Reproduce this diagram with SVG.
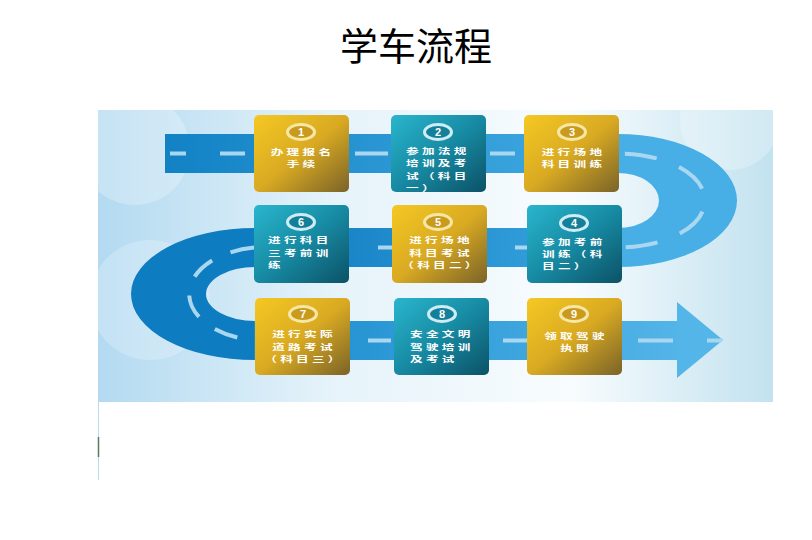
<svg xmlns="http://www.w3.org/2000/svg" width="812" height="540" viewBox="0 0 812 540">
<defs>
<style>
.t{font-family:"Noto Sans CJK SC","Noto Sans",sans-serif;font-size:8.4px;font-weight:bold;fill:#ffffff;letter-spacing:2.2px}
.c{text-anchor:middle}
.n{font-family:"Liberation Sans",Arial,sans-serif;font-size:11px;font-weight:bold;fill:#ffffff;text-anchor:middle}
.dash{fill:none;stroke:#a9d7f0;stroke-width:4}
.rg{fill:#c99a1c;stroke:#f6e7a6;stroke-width:3}
.rt{fill:#137f98;stroke:#cdecf4;stroke-width:3}
</style>
<linearGradient id="bg" x1="0" y1="0" x2="1" y2="0">
<stop offset="0" stop-color="#b3daf1"/>
<stop offset="0.35" stop-color="#e6f3fa"/>
<stop offset="0.7" stop-color="#f8fcfe"/>
<stop offset="1" stop-color="#c2e2ef"/>
</linearGradient>
<linearGradient id="gold" x1="0" y1="0" x2="1" y2="1">
<stop offset="0" stop-color="#f5c823"/>
<stop offset="0.5" stop-color="#d9aa22"/>
<stop offset="1" stop-color="#7a6328"/>
</linearGradient>
<linearGradient id="teal" x1="0" y1="0" x2="1" y2="1">
<stop offset="0" stop-color="#29b6cd"/>
<stop offset="0.5" stop-color="#178aa3"/>
<stop offset="1" stop-color="#0b5266"/>
</linearGradient>
<linearGradient id="topband" x1="0" y1="0" x2="1" y2="0">
<stop offset="0" stop-color="#1282c5"/>
<stop offset="1" stop-color="#43abe3"/>
</linearGradient>
<linearGradient id="midband" x1="0" y1="0" x2="1" y2="0">
<stop offset="0" stop-color="#0f7bc0"/>
<stop offset="1" stop-color="#3aa6e1"/>
</linearGradient>
<linearGradient id="botband" x1="0" y1="0" x2="1" y2="0">
<stop offset="0" stop-color="#1a8bcd"/>
<stop offset="1" stop-color="#53b4e8"/>
</linearGradient>
</defs>

<text x="416" y="60" style="font-family:'Noto Sans CJK SC','Noto Sans',sans-serif;font-size:38px;fill:#000000" text-anchor="middle">学车流程</text>

<g id="background">
<rect x="98" y="110" width="675" height="292" fill="url(#bg)"/>
<circle cx="135" cy="150" r="55" fill="#ffffff" opacity="0.25"/>
<circle cx="150" cy="300" r="60" fill="#ffffff" opacity="0.22"/>
<circle cx="730" cy="120" r="50" fill="#ffffff" opacity="0.25"/>
<line x1="98.5" y1="402" x2="98.5" y2="480" stroke="#b8dcea" stroke-width="1"/>
<line x1="98.5" y1="437" x2="98.5" y2="457" stroke="#5a7a60" stroke-width="1.5"/>
</g>

<g id="connectors">
<rect x="165" y="134" width="454" height="39" fill="url(#topband)"/>
<path d="M618,134 A119,66.5 0 0 1 618,267 L618,228 A41,27.5 0 0 0 618,173 Z" fill="#47afe5"/>
<rect x="255" y="228" width="364" height="39" fill="url(#midband)"/>
<path d="M255,228 A124,66 0 0 0 255,360 L255,321 A49,27 0 0 1 255,267 Z" fill="#0e7cc0"/>
<rect x="254" y="321" width="424" height="39" fill="url(#botband)"/>
<polygon points="677,302 723,340 677,378" fill="#54b5e8"/>
<line class="dash" x1="170" y1="153.5" x2="186" y2="153.5"/>
<line class="dash" x1="220" y1="153.5" x2="245" y2="153.5"/>
<line class="dash" x1="355" y1="153.5" x2="388" y2="153.5"/>
<line class="dash" x1="490" y1="153.5" x2="515" y2="153.5"/>
<path class="dash" d="M618,153.5 A87,47 0 0 1 618,247.5" stroke-dasharray="32 24" stroke-dashoffset="-7"/>
<line class="dash" x1="515" y1="247.5" x2="527" y2="247.5"/>
<line class="dash" x1="378" y1="247.5" x2="392" y2="247.5"/>
<path class="dash" d="M255,247.5 A77,47 0 0 0 255,340.5" stroke-dasharray="24 20" stroke-dashoffset="-1"/>
<line class="dash" x1="368" y1="340.5" x2="391" y2="340.5"/>
<line class="dash" x1="503" y1="340.5" x2="527" y2="340.5"/>
<line class="dash" x1="638" y1="340.5" x2="673" y2="340.5"/>
<line class="dash" x1="707" y1="340.5" x2="722" y2="340.5"/>
</g>

<g id="node1">
<rect x="254" y="115" width="95" height="77" rx="5" fill="url(#gold)"/>
<ellipse cx="301" cy="132" rx="13.5" ry="7.5" class="rg"/>
<text x="301" y="136" class="n">1</text>
<g transform="translate(302.5,0) scale(1.5,1)">
<text class="t c" x="0" y="155.2">办理报名<tspan x="0" dy="12.2">手续</tspan></text>
</g>
</g>

<g id="node2">
<rect x="391" y="115" width="95" height="77" rx="5" fill="url(#teal)"/>
<ellipse cx="438" cy="132" rx="13.5" ry="7.5" class="rt"/>
<text x="438" y="136" class="n">2</text>
<g transform="translate(406,0) scale(1.5,1)">
<text class="t" x="0" y="154.2">参加法规<tspan x="0" dy="12.2">培训及考</tspan><tspan x="0" dy="12.2">试（科目</tspan><tspan x="0" dy="12.2">一）</tspan></text>
</g>
</g>

<g id="node3">
<rect x="524" y="115" width="95" height="77" rx="5" fill="url(#gold)"/>
<ellipse cx="572" cy="132" rx="13.5" ry="7.5" class="rg"/>
<text x="572" y="136" class="n">3</text>
<g transform="translate(573.5,0) scale(1.5,1)">
<text class="t c" x="0" y="155.2">进行场地<tspan x="0" dy="12.2">科目训练</tspan></text>
</g>
</g>

<g id="node4">
<rect x="527" y="205" width="95" height="78" rx="5" fill="url(#teal)"/>
<ellipse cx="574" cy="223" rx="13.5" ry="7.5" class="rt"/>
<text x="574" y="227" class="n">4</text>
<g transform="translate(542,0) scale(1.5,1)">
<text class="t" x="0" y="245">参加考前<tspan x="0" dy="12.2">训练（科</tspan><tspan x="0" dy="12.2">目二）</tspan></text>
</g>
</g>

<g id="node5">
<rect x="392" y="205" width="95" height="78" rx="5" fill="url(#gold)"/>
<ellipse cx="438" cy="222" rx="13.5" ry="7.5" class="rg"/>
<text x="438" y="226" class="n">5</text>
<g transform="translate(441,0) scale(1.5,1)">
<text class="t c" x="0" y="243.5">进行场地<tspan x="0" dy="12.2">科目考试</tspan><tspan x="0" dy="12.2">（科目二）</tspan></text>
</g>
</g>

<g id="node6">
<rect x="254" y="205" width="95" height="78" rx="5" fill="url(#teal)"/>
<ellipse cx="301" cy="222" rx="13.5" ry="7.5" class="rt"/>
<text x="301" y="226" class="n">6</text>
<g transform="translate(268,0) scale(1.5,1)">
<text class="t" x="0" y="243.5">进行科目<tspan x="0" dy="12.2">三考前训</tspan><tspan x="0" dy="12.2">练</tspan></text>
</g>
</g>

<g id="node7">
<rect x="255" y="298" width="95" height="77" rx="5" fill="url(#gold)"/>
<ellipse cx="303" cy="314" rx="13.5" ry="7.5" class="rg"/>
<text x="303" y="318" class="n">7</text>
<g transform="translate(304,0) scale(1.5,1)">
<text class="t c" x="0" y="337.5">进行实际<tspan x="0" dy="12.2">道路考试</tspan><tspan x="0" dy="12.2">（科目三）</tspan></text>
</g>
</g>

<g id="node8">
<rect x="394" y="298" width="95" height="77" rx="5" fill="url(#teal)"/>
<ellipse cx="442" cy="314" rx="13.5" ry="7.5" class="rt"/>
<text x="442" y="318" class="n">8</text>
<g transform="translate(410,0) scale(1.5,1)">
<text class="t" x="0" y="337.5">安全文明<tspan x="0" dy="12.2">驾驶培训</tspan><tspan x="0" dy="12.2">及考试</tspan></text>
</g>
</g>

<g id="node9">
<rect x="527" y="298" width="95" height="77" rx="5" fill="url(#gold)"/>
<ellipse cx="574" cy="314" rx="13.5" ry="7.5" class="rg"/>
<text x="574" y="318" class="n">9</text>
<g transform="translate(576,0) scale(1.5,1)">
<text class="t c" x="0" y="338.6">领取驾驶<tspan x="0" dy="12.2">执照</tspan></text>
</g>
</g>
</svg>
